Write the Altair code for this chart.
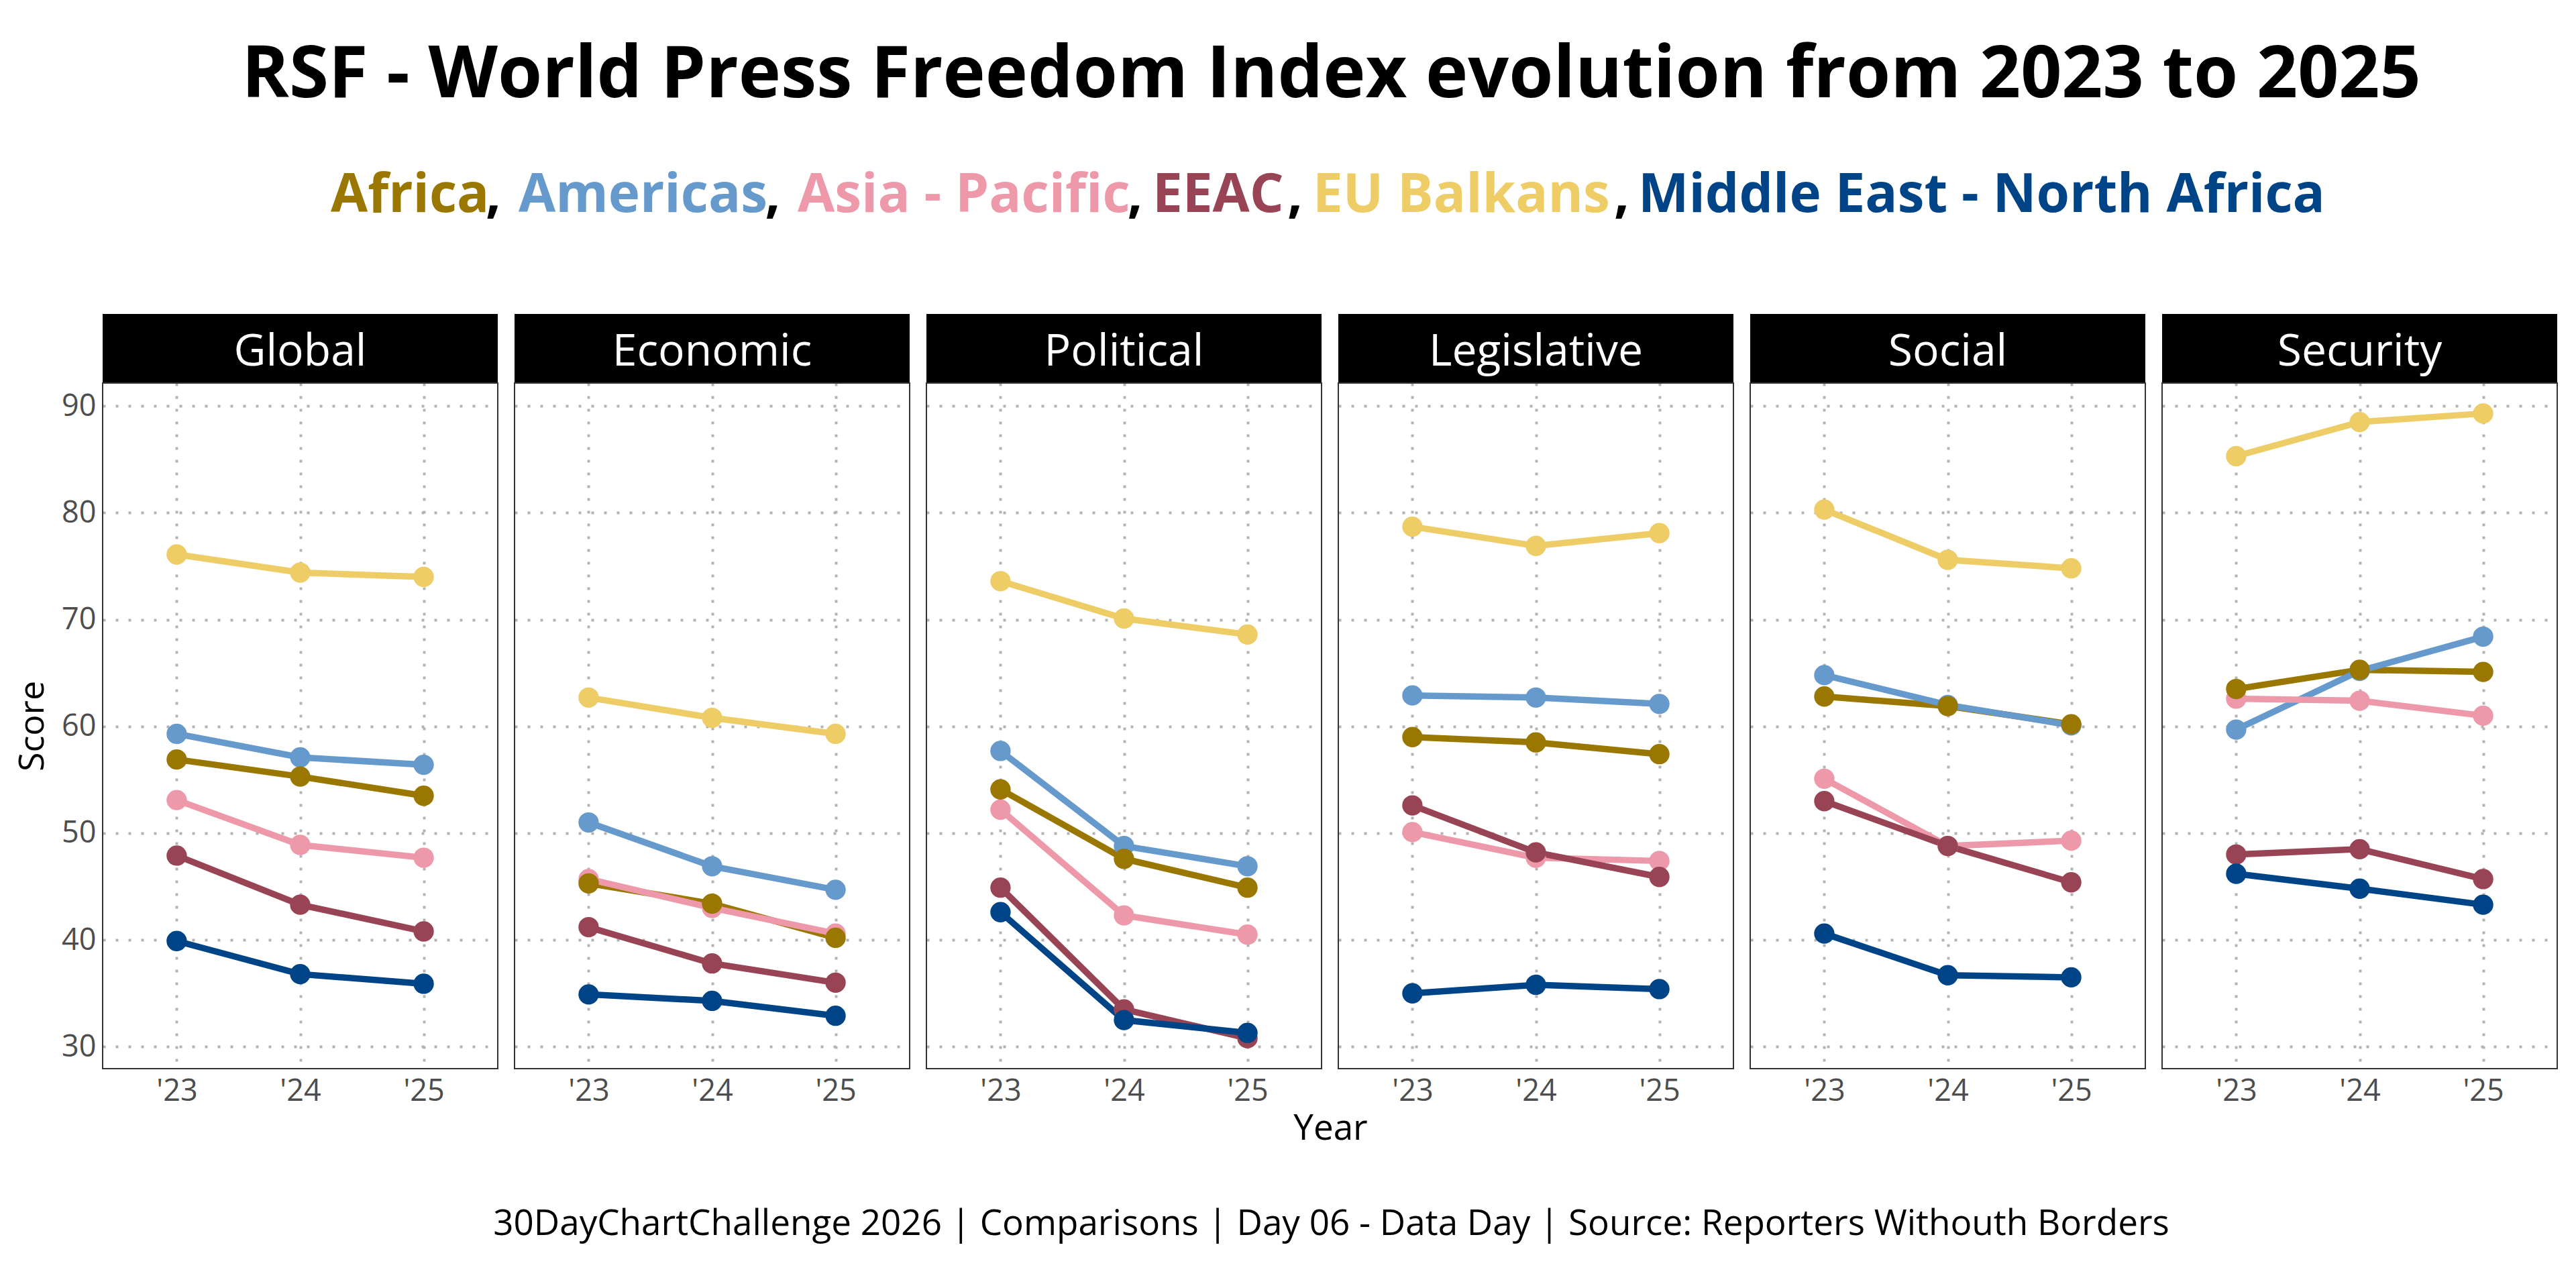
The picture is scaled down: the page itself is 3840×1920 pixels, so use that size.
import altair as alt
import pandas as pd

# ---------------- data ----------------
YEARS = ["'23", "'24", "'25"]
INDICATORS = ["Global", "Economic", "Political", "Legislative", "Social", "Security"]
REGIONS = ["Africa", "Americas", "Asia - Pacific", "EEAC", "EU Balkans", "Middle East - North Africa"]
REGION_COLORS = ["#997700", "#6699CC", "#EE99AA", "#994455", "#EECC66", "#004488"]
# drawing order of the points (last on top)
POINT_ORDER = ["Americas", "Asia - Pacific", "EEAC", "EU Balkans", "Middle East - North Africa", "Africa"]

# scores per indicator, rows in REGIONS order, columns in YEARS order
GLOBAL = [[56.9, 55.3, 53.5], [59.3, 57.1, 56.4], [53.1, 48.9, 47.7],
          [47.9, 43.3, 40.8], [76.1, 74.4, 74.0], [39.9, 36.8, 35.9]]
ECONOMIC = [[45.3, 43.4, 40.2], [51.0, 46.9, 44.7], [45.7, 43.0, 40.6],
            [41.2, 37.8, 36.0], [62.7, 60.8, 59.3], [34.9, 34.3, 32.9]]
POLITICAL = [[54.1, 47.6, 44.9], [57.7, 48.8, 46.9], [52.2, 42.3, 40.5],
             [44.9, 33.5, 30.8], [73.6, 70.1, 68.6], [42.6, 32.5, 31.3]]
LEGISLATIVE = [[59.0, 58.5, 57.4], [62.9, 62.7, 62.1], [50.1, 47.7, 47.4],
               [52.6, 48.2, 45.9], [78.7, 76.9, 78.1], [35.0, 35.8, 35.4]]
SOCIAL = [[62.8, 61.9, 60.2], [64.8, 62.0, 60.1], [55.1, 48.8, 49.3],
          [53.0, 48.8, 45.4], [80.3, 75.6, 74.8], [40.6, 36.7, 36.5]]
SECURITY = [[63.5, 65.3, 65.1], [59.7, 65.2, 68.4], [62.6, 62.4, 61.0],
            [48.0, 48.5, 45.7], [85.3, 88.5, 89.3], [46.2, 44.8, 43.3]]
SCORES = [GLOBAL, ECONOMIC, POLITICAL, LEGISLATIVE, SOCIAL, SECURITY]

TITLE = "RSF - World Press Freedom Index evolution from 2023 to 2025"
CAPTION = "30DayChartChallenge 2026 | Comparisons | Day 06 - Data Day | Source: Reporters Withouth Borders"
SUB_TEXT = ["Africa", ",", "Americas", ",", "Asia - Pacific", ",", "EEAC", ",",
            "EU Balkans", ",", "Middle East - North Africa"]

rows = []
for ind, table in zip(INDICATORS, SCORES):
    for reg, vals in zip(REGIONS, table):
        for yr, v in zip(YEARS, vals):
            rows.append({"indicator": ind, "region": reg, "year": yr, "score": v,
                         "z": POINT_ORDER.index(reg)})
df = pd.DataFrame(rows)

# ---------------- layout / style ----------------
FONT = "Open Sans"
PW, PH, STRIP = 589, 1022, 103
GRID = "#b3b3b3"
ORIGIN_X = 152         # page x of the header/footer origin (aligned with first panel)
SUB_COLORS = [REGION_COLORS[0], "black", REGION_COLORS[1], "black", REGION_COLORS[2], "black",
              REGION_COLORS[3], "black", REGION_COLORS[4], "black", REGION_COLORS[5]]
SUB_X = [492, 723, 772, 1139.5, 1188, 1679.5, 1717, 1918, 1956, 2405, 2441]
CENTER_X = 1983.5

xenc = alt.X("year:N", sort=YEARS, scale=alt.Scale(type="point", padding=0.6),
             axis=alt.Axis(title=None, labelFont=FONT, labelFontSize=45, labelColor="#4D4D4D",
                           labelPadding=10, labelAngle=0, ticks=False, tickSize=0, domain=False,
                           grid=True, gridColor=GRID, gridWidth=4, gridDash=[4, 15]))
yenc = alt.Y("score:Q", scale=alt.Scale(domain=[27.95, 92.15], nice=False, zero=False),
             axis=alt.Axis(values=[30, 40, 50, 60, 70, 80, 90], title="Score",
                           titleFont=FONT, titleFontSize=52, titleFontWeight="normal",
                           titleColor="black", titleAngle=270, titleBaseline="alphabetic",
                           titleAlign="center", titleX=-88, titleY=PH / 2,
                           labelFont=FONT, labelFontSize=45, labelColor="#4D4D4D",
                           labelPadding=9, ticks=False, tickSize=0, domain=False,
                           grid=True, gridColor=GRID, gridWidth=4, gridDash=[4, 15]))
cenc = alt.Color("region:N", scale=alt.Scale(domain=REGIONS, range=REGION_COLORS), legend=None)

one_row = (alt.datum.region == REGIONS[0]) & (alt.datum.year == YEARS[0])

strip_rect = alt.Chart().mark_rect(color="black").encode(
    x=alt.value(0), x2=alt.value(PW), y=alt.value(-STRIP), y2=alt.value(0)
).transform_filter(one_row)

strip_text = alt.Chart().mark_text(font=FONT, fontSize=66, color="white", align="center",
                                   baseline="alphabetic").encode(
    x=alt.value(PW / 2), y=alt.value(-26.5), text="indicator:N"
).transform_filter(one_row)

lines = alt.Chart().mark_line(strokeWidth=9.5).encode(x=xenc, y=yenc, color=cenc, detail="region:N")
points = alt.Chart().mark_circle(size=920, opacity=1).encode(
    x=xenc, y=yenc, color=cenc, order=alt.Order("z:Q"))

border = alt.Chart().mark_rect(filled=False, color="#333333", strokeWidth=2).encode(
    x=alt.value(0), x2=alt.value(PW), y=alt.value(0), y2=alt.value(PH)
).transform_filter(one_row)

panels = alt.layer(strip_rect, strip_text, lines, points, border, data=df).properties(
    width=PW, height=PH
).facet(
    column=alt.Column("indicator:N", sort=INDICATORS, header=alt.Header(labels=False, title=None)),
    spacing=23,
)

hdr_data = alt.Data(values=[{"k": 0}])
header_layers = [
    alt.Chart(hdr_data).mark_text(text=TITLE, font=FONT, fontSize=107, fontWeight="bold",
                                  align="center", baseline="alphabetic", color="black").encode(
        x=alt.value(CENTER_X - ORIGIN_X), y=alt.value(137))
]
for txt, col, px in zip(SUB_TEXT, SUB_COLORS, SUB_X):
    header_layers.append(
        alt.Chart(hdr_data).mark_text(text=txt, font=FONT, fontSize=80, fontWeight="bold",
                                      align="left", baseline="alphabetic", color=col).encode(
            x=alt.value(px - ORIGIN_X), y=alt.value(308))
    )
header = alt.layer(*header_layers).properties(width=3600, height=460)

footer = alt.layer(
    alt.Chart(hdr_data).mark_text(text="Year", font=FONT, fontSize=53, align="center",
                                  baseline="alphabetic", color="black").encode(
        x=alt.value(1982.5 - ORIGIN_X), y=alt.value(50)),
    alt.Chart(hdr_data).mark_text(text=CAPTION, font=FONT, fontSize=53, align="center",
                                  baseline="alphabetic", color="black").encode(
        x=alt.value(CENTER_X - ORIGIN_X), y=alt.value(192)),
).properties(width=3600, height=230)

chart = alt.vconcat(header, panels, footer, spacing=0).properties(
    padding={"left": 14, "top": 0, "right": 0, "bottom": 0},
    background="white",
).configure(font=FONT).configure_view(stroke="transparent", strokeWidth=0)

chart.save("out.html", embed_options={"renderer": "svg", "actions": False})
